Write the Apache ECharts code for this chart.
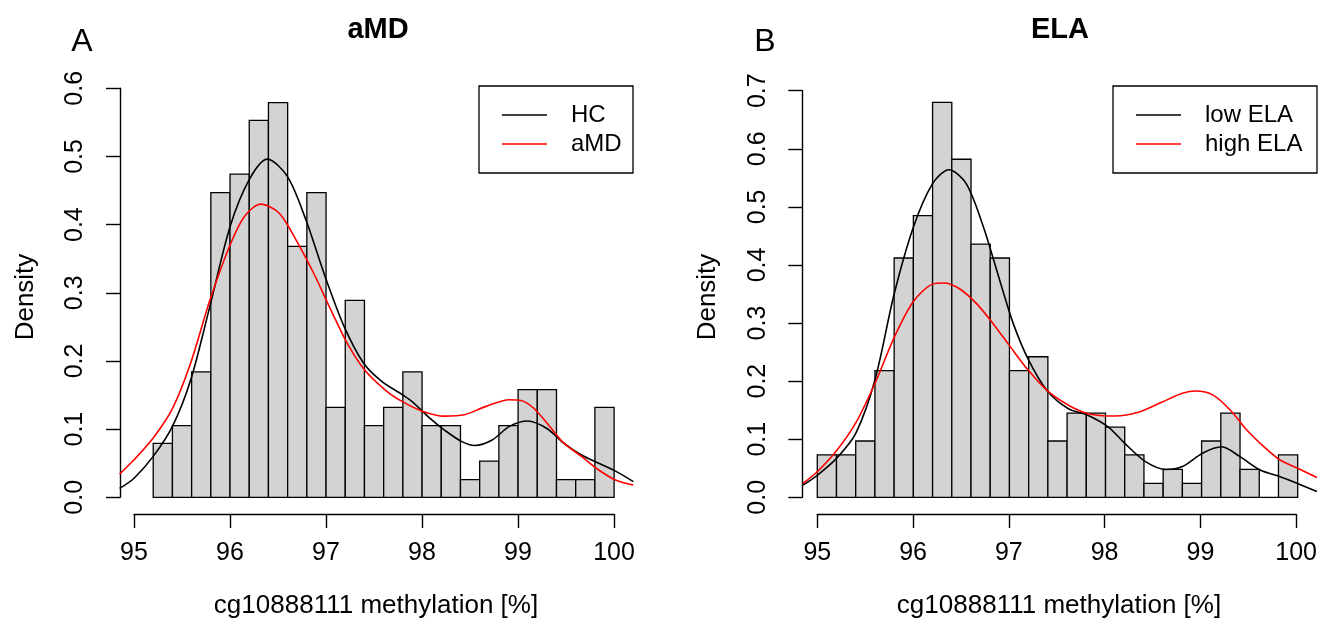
<!DOCTYPE html>
<html>
<head>
<meta charset="utf-8">
<title>cg10888111 methylation density</title>
<script src="https://cdn.jsdelivr.net/npm/echarts@6/dist/echarts.min.js"></script>
<style>
  html, body { margin: 0; padding: 0; background: #fff; }
  #chart { width: 1320px; height: 621px; }
</style>
</head>
<body>
<div id="chart"></div>
<script>
// histogram bin edges and densities, panel A (aMD)
var breaksA = [95.2, 95.4, 95.6, 95.8, 96.0, 96.2, 96.4, 96.6, 96.8, 97.0, 97.2, 97.4, 97.6,
               97.8, 98.0, 98.2, 98.4, 98.6, 98.8, 99.0, 99.2, 99.4, 99.6, 99.8, 100.0];
var densA = [0.079, 0.105, 0.184, 0.447, 0.474, 0.553, 0.579, 0.368, 0.447, 0.132, 0.289, 0.105,
             0.132, 0.184, 0.105, 0.105, 0.026, 0.053, 0.105, 0.158, 0.158, 0.026, 0.026, 0.132];

// panel B (ELA)
var breaksB = [95.0, 95.2, 95.4, 95.6, 95.8, 96.0, 96.2, 96.4, 96.6, 96.8, 97.0, 97.2, 97.4,
               97.6, 97.8, 98.0, 98.2, 98.4, 98.6, 98.8, 99.0, 99.2, 99.4, 99.6, 99.8, 100.0];
var densB = [0.073, 0.073, 0.097, 0.218, 0.412, 0.485, 0.680, 0.582, 0.436, 0.412, 0.218, 0.242,
             0.097, 0.145, 0.145, 0.121, 0.073, 0.024, 0.048, 0.024, 0.097, 0.145, 0.048, 0, 0.073];

// kernel density curves [x, density]
var hcCurve = [[94.85, 0.013], [95.00, 0.028], [95.20, 0.060], [95.40, 0.104], [95.59, 0.172],
  [95.79, 0.280], [96.00, 0.397], [96.20, 0.466], [96.39, 0.496], [96.60, 0.470], [96.79, 0.407],
  [96.99, 0.324], [97.19, 0.250], [97.39, 0.197], [97.58, 0.170], [97.80, 0.150], [97.90, 0.140],
  [98.08, 0.116], [98.23, 0.099], [98.41, 0.082], [98.55, 0.076], [98.73, 0.084], [98.91, 0.104],
  [99.10, 0.112], [99.30, 0.101], [99.48, 0.079], [99.66, 0.062], [99.84, 0.050], [100.02, 0.038],
  [100.20, 0.023]];
var amdCurve = [[94.85, 0.034], [95.00, 0.055], [95.20, 0.087], [95.40, 0.130], [95.59, 0.197],
  [95.79, 0.289], [96.00, 0.370], [96.15, 0.412], [96.32, 0.430], [96.51, 0.417], [96.69, 0.377],
  [96.87, 0.329], [97.05, 0.275], [97.22, 0.226], [97.40, 0.187], [97.62, 0.157], [97.80, 0.140],
  [98.01, 0.126], [98.23, 0.119], [98.44, 0.121], [98.66, 0.133], [98.91, 0.143], [99.03, 0.142],
  [99.16, 0.131], [99.30, 0.109], [99.48, 0.079], [99.66, 0.060], [99.84, 0.040], [100.02, 0.025],
  [100.20, 0.018]];
var lowElaCurve = [[94.85, 0.021], [95.00, 0.038], [95.20, 0.067], [95.40, 0.110], [95.60, 0.202],
  [95.80, 0.350], [96.00, 0.465], [96.20, 0.540], [96.37, 0.564], [96.55, 0.540], [96.73, 0.465],
  [96.90, 0.373], [97.04, 0.299], [97.20, 0.236], [97.39, 0.184], [97.61, 0.153], [97.82, 0.141],
  [98.03, 0.121], [98.20, 0.093], [98.42, 0.061], [98.63, 0.048], [98.80, 0.053], [99.01, 0.076],
  [99.21, 0.087], [99.40, 0.070], [99.61, 0.047], [99.81, 0.036], [100.00, 0.024], [100.20, 0.010]];
var highElaCurve = [[94.85, 0.024], [95.00, 0.044], [95.20, 0.080], [95.40, 0.128], [95.60, 0.196],
  [95.80, 0.275], [96.00, 0.337], [96.20, 0.367], [96.32, 0.369], [96.48, 0.359], [96.66, 0.333],
  [96.83, 0.299], [97.01, 0.259], [97.18, 0.222], [97.39, 0.184], [97.61, 0.159], [97.82, 0.144],
  [98.10, 0.140], [98.35, 0.147], [98.59, 0.164], [98.80, 0.179], [98.94, 0.183], [99.12, 0.176],
  [99.30, 0.150], [99.47, 0.116], [99.65, 0.087], [99.82, 0.064], [100.00, 0.050], [100.20, 0.034]];

var legendA = ['HC', 'aMD'];
var legendB = ['low ELA', 'high ELA'];
var xTitle = 'cg10888111 methylation [%]';

var FONT = "'Liberation Sans', Arial, Helvetica, sans-serif";

function histData(breaks, dens) {
  return dens.map(function (d, i) { return [breaks[i], breaks[i + 1], d]; });
}

function renderBar(params, api) {
  var p0 = api.coord([api.value(0), api.value(2)]);
  var p1 = api.coord([api.value(1), 0]);
  return {
    type: 'rect',
    shape: { x: p0[0], y: p0[1], width: p1[0] - p0[0], height: p1[1] - p0[1] },
    style: { fill: '#d3d3d3', stroke: '#000', lineWidth: 1.3 }
  };
}

function curve(name, data, color, idx) {
  return {
    name: name, type: 'line', data: data, xAxisIndex: idx, yAxisIndex: idx,
    smooth: 0.3, symbol: 'none', clip: true, silent: true,
    lineStyle: { color: color, width: 1.6 }
  };
}

// shown axes live in their own thin grids so the line runs only 95..100 like R
function shownX(idx) {
  return {
    gridIndex: idx, type: 'value', min: 95, max: 100, interval: 1,
    axisLine: { lineStyle: { color: '#000', width: 1.4 } },
    axisTick: { length: 14, lineStyle: { color: '#000', width: 1.4 } },
    axisLabel: { color: '#000', fontSize: 25, fontFamily: FONT, margin: 27 },
    splitLine: { show: false }
  };
}
function shownY(idx, max) {
  return {
    gridIndex: idx, type: 'value', min: 0, max: max, interval: 0.1,
    axisLine: { show: true, lineStyle: { color: '#000', width: 1.4 } },
    axisTick: { show: true, length: 14, lineStyle: { color: '#000', width: 1.4 } },
    axisLabel: { color: '#000', fontSize: 25, fontFamily: FONT, margin: 32, rotate: 90,
      formatter: function (v) { return v.toFixed(1); } },
    splitLine: { show: false }
  };
}
function hidden(idx, min, max) {
  return { gridIndex: idx, type: 'value', min: min, max: max, show: false, splitLine: { show: false } };
}

function text(x, y, str, size, extra) {
  var s = { text: str, x: 0, y: 0, fill: '#000', fontSize: size, fontFamily: FONT,
            align: 'center', verticalAlign: 'middle' };
  for (var k in extra) s[k] = extra[k];
  return { type: 'text', x: x, y: y, style: s, silent: true };
}

function legend(x0, y0, x1, y1, names) {
  var lx0 = x0 + 23, lx1 = x0 + 68, tx = x0 + 92;
  return [
    { type: 'rect', shape: { x: x0, y: y0, width: x1 - x0, height: y1 - y0 },
      style: { fill: '#fff', stroke: '#000', lineWidth: 1.3 }, z: 10 },
    { type: 'line', shape: { x1: lx0, y1: y0 + 29, x2: lx1, y2: y0 + 29 },
      style: { stroke: '#000', lineWidth: 1.3 }, z: 11 },
    { type: 'line', shape: { x1: lx0, y1: y0 + 58, x2: lx1, y2: y0 + 58 },
      style: { stroke: '#ff0000', lineWidth: 1.3 }, z: 11 },
    Object.assign(text(tx, y0 + 29, names[0], 24, { align: 'left' }), { z: 11 }),
    Object.assign(text(tx, y0 + 58, names[1], 24, { align: 'left' }), { z: 11 })
  ];
}

var chart = echarts.init(document.getElementById('chart'), null, { renderer: 'canvas' });
chart.setOption({
  animation: false,
  backgroundColor: '#fff',
  grid: [
    { left: 120, right: 686.7, top: 64.75, bottom: 107 },   // data A
    { left: 802.3, right: 3.3, top: 63.5, bottom: 107 },    // data B
    { left: 134, right: 706, top: 400, bottom: 107 },       // x axis A
    { left: 120, width: 20, top: 88.3, bottom: 123.7 },     // y axis A
    { left: 817.3, right: 22.3, top: 400, bottom: 107 },    // x axis B
    { left: 802.3, width: 20, top: 90.7, bottom: 123.7 }    // y axis B
  ],
  xAxis: [
    hidden(0, 94.854, 100.2),
    hidden(1, 94.844, 100.198),
    shownX(2),
    hidden(3, 0, 1),
    shownX(4),
    hidden(5, 0, 1)
  ],
  yAxis: [
    hidden(0, -0.0245, 0.6345),
    hidden(1, -0.0287, 0.7468),
    hidden(2, 0, 1),
    shownY(3, 0.6),
    hidden(4, 0, 1),
    shownY(5, 0.7)
  ],
  series: [
    { type: 'custom', name: 'histA', xAxisIndex: 0, yAxisIndex: 0, renderItem: renderBar,
      data: histData(breaksA, densA), encode: { x: [0, 1], y: 2 }, silent: true },
    curve(legendA[0], hcCurve, '#000', 0),
    curve(legendA[1], amdCurve, '#ff0000', 0),
    { type: 'custom', name: 'histB', xAxisIndex: 1, yAxisIndex: 1, renderItem: renderBar,
      data: histData(breaksB, densB), encode: { x: [0, 1], y: 2 }, silent: true },
    curve(legendB[0], lowElaCurve, '#000', 1),
    curve(legendB[1], highElaCurve, '#ff0000', 1)
  ],
  graphic: [
    text(82, 42, 'A', 32),
    text(378, 30, 'aMD', 29, { fontWeight: 'bold' }),
    text(376, 606, xTitle, 26),
    { type: 'text', x: 26, y: 297, rotation: Math.PI / 2, silent: true,
      style: { text: 'Density', fill: '#000', fontSize: 26, fontFamily: FONT,
               align: 'center', verticalAlign: 'middle' } },
    text(765, 42, 'B', 32),
    text(1060, 30, 'ELA', 29, { fontWeight: 'bold' }),
    text(1059, 606, xTitle, 26),
    { type: 'text', x: 708, y: 297, rotation: Math.PI / 2, silent: true,
      style: { text: 'Density', fill: '#000', fontSize: 26, fontFamily: FONT,
               align: 'center', verticalAlign: 'middle' } }
  ].concat(legend(479, 86, 633, 173, legendA))
   .concat(legend(1113, 86, 1317, 173, legendB))
});
</script>
</body>
</html>
